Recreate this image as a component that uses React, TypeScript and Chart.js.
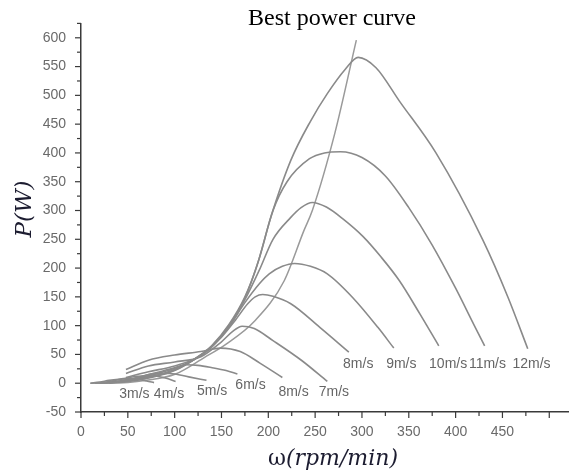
import React, { useEffect, useRef } from "react";
import { Chart, registerables } from "chart.js";

Chart.register(...registerables);

// ---- data (rpm / power in W) ----
const rpm3 = [10, 20, 30, 40, 50, 60, 70, 78];
const p3 = [0, 2, 5, 7, 8, 7, 4, 1];
const rpm4 = [20, 30, 45, 60, 75, 90, 101];
const p4 = [0, 3, 8, 12, 13, 9, 3];
const rpm5 = [30, 45, 60, 78, 95, 115, 134];
const p5 = [0, 4, 9, 17, 17, 11, 5];
const rpm6 = [40, 60, 80, 100, 112, 125, 140, 155, 167];
const p6 = [3, 10, 18, 27, 32, 31, 27, 22, 16];
const rpm7 = [48, 72, 100, 128, 149, 170, 191, 215];
const p7 = [24, 40, 49, 55, 61, 55, 35, 10];
const rpm8 = [48, 72, 100, 128, 150, 162, 172, 185, 205, 236, 263];
const p8 = [17, 30, 37, 46, 72, 90, 99, 95, 74, 39, 3];
const rpm9 = [48, 72, 100, 128, 150, 165, 178, 186, 194, 205, 224, 255, 286];
const p9 = [10, 20, 30, 48, 80, 110, 138, 150, 154, 151, 138, 97, 54];
const rpm10 = [30, 50, 75, 100, 125, 140, 158, 175, 190, 201, 215, 228, 245, 263, 290, 317, 334];
const p10 = [2, 6, 14, 26, 45, 64, 98, 140, 172, 190, 203, 208, 203, 190, 149, 97, 61];
const rpm11 = [25, 50, 75, 100, 125, 140, 158, 175, 190, 205, 224, 235, 247, 262, 280, 301, 320, 340, 362, 382];
const p11 = [1, 5, 12, 24, 45, 64, 98, 145, 195, 250, 288, 305, 314, 306, 285, 255, 220, 178, 120, 65];
const rpm12 = [20, 50, 75, 100, 125, 140, 158, 175, 190, 205, 220, 244, 260, 277, 300, 325, 350, 375, 400, 420, 431];
const p12 = [0, 4, 11, 23, 46, 65, 100, 148, 215, 300, 350, 390, 400, 402, 392, 360, 305, 240, 165, 100, 65];
const rpm13 = [15, 50, 75, 100, 125, 140, 158, 175, 188, 203, 224, 245, 263, 282, 296, 315, 340, 379, 429, 456, 477];
const p13 = [0, 3, 10, 22, 46, 66, 102, 150, 205, 290, 387, 455, 503, 545, 566, 548, 490, 400, 249, 149, 60];
const rpmBest = [10, 32, 70, 101, 132, 155, 186, 217, 238, 247, 271, 294];
const pBest = [0, 0, 5, 16, 45, 68, 109, 178, 265, 300, 434, 596];

const windLabels = ["3m/s", "4m/s", "5m/s", "6m/s", "8m/s", "7m/s", "8m/s", "9m/s", "10m/s", "11m/s", "12m/s"];
const labelRpm = [57, 94, 140, 181, 227, 270, 296, 342, 392, 434, 481];
const labelPower = [-18.5, -18.5, -14.5, -3, -15.6, -15.6, 33.5, 33.5, 33.5, 33.5, 33.5];

const titleText = "Best power curve";
const xTitleSymbol = "ω";
const xTitleUnit = "(rpm/min)";
const yTitleText = "P(W)";

const xMin = 0, xMax = 520, xLabelMax = 500, xStep = 25;
const yMin = -50, yMax = 625, yStep = 25;

const curves = [
  [rpm3, p3], [rpm4, p4], [rpm5, p5], [rpm6, p6], [rpm7, p7], [rpm8, p8],
  [rpm9, p9], [rpm10, p10], [rpm11, p11], [rpm12, p12], [rpm13, p13],
];

const zip = (xs: number[], ys: number[]) => xs.map((x, i) => ({ x, y: ys[i] }));

const decorPlugin = {
  id: "decor",
  afterDraw(chart: any) {
    const ctx = chart.ctx;
    const xs = chart.scales.x;
    const ys = chart.scales.y;
    const area = chart.chartArea;
    ctx.save();
    // tick marks
    ctx.strokeStyle = "#3a3a3a";
    ctx.lineWidth = 1.2;
    for (let v = xMin; v <= xLabelMax; v += xStep) {
      const px = xs.getPixelForValue(v);
      const len = v % 50 === 0 ? 6 : 4;
      ctx.beginPath();
      ctx.moveTo(px, area.bottom);
      ctx.lineTo(px, area.bottom + len);
      ctx.stroke();
    }
    for (let v = yMin; v <= yMax; v += yStep) {
      const py = ys.getPixelForValue(v);
      const len = v % 50 === 0 ? 6 : 4;
      ctx.beginPath();
      ctx.moveTo(area.left, py);
      ctx.lineTo(area.left - len, py);
      ctx.stroke();
    }
    // wind speed labels
    ctx.fillStyle = "#666";
    ctx.font = '14px "Liberation Sans", Arial, sans-serif';
    ctx.textAlign = "center";
    ctx.textBaseline = "middle";
    windLabels.forEach((t, i) => {
      ctx.fillText(t, xs.getPixelForValue(labelRpm[i]), ys.getPixelForValue(labelPower[i]));
    });
    // chart title
    ctx.fillStyle = "#000";
    ctx.font = '24px "Liberation Serif", serif';
    ctx.textAlign = "center";
    ctx.textBaseline = "alphabetic";
    ctx.fillText(titleText, 332, 25);
    // x axis title
    ctx.fillStyle = "#1c1c30";
    ctx.font = '22px "DejaVu Serif", serif';
    const w1 = ctx.measureText(xTitleSymbol).width;
    ctx.font = 'italic 22px "DejaVu Serif", serif';
    const w2 = ctx.measureText(xTitleUnit).width;
    const startX = 333 - (w1 + w2) / 2;
    ctx.textAlign = "left";
    ctx.font = '22px "DejaVu Serif", serif';
    ctx.fillText(xTitleSymbol, startX, 465);
    ctx.font = 'italic 22px "DejaVu Serif", serif';
    ctx.fillText(xTitleUnit, startX + w1, 465);
    // y axis title
    ctx.translate(25, 209);
    ctx.rotate(-Math.PI / 2);
    ctx.textAlign = "center";
    ctx.textBaseline = "middle";
    ctx.font = 'italic 23px "DejaVu Serif", serif';
    ctx.fillText(yTitleText, 0, 0);
    ctx.restore();
  },
};

export default function App() {
  const ref = useRef<HTMLCanvasElement | null>(null);
  useEffect(() => {
    if (!ref.current) return;
    const datasets: any[] = curves.map(([xs, ys]) => ({
      data: zip(xs, ys),
      borderColor: "#8a8a8a",
      borderWidth: 1.6,
      pointRadius: 0,
      cubicInterpolationMode: "monotone",
      fill: false,
    }));
    datasets.push({
      data: zip(rpmBest, pBest),
      borderColor: "#9a9a9a",
      borderWidth: 1.5,
      pointRadius: 0,
      cubicInterpolationMode: "monotone",
      fill: false,
    });
    const chart = new Chart(ref.current, {
      type: "line",
      data: { datasets },
      options: {
        animation: false,
        responsive: false,
        devicePixelRatio: 1,
        layout: { padding: { top: 23, right: 1, left: 0, bottom: 0 } },
        plugins: { legend: { display: false }, tooltip: { enabled: false }, title: { display: false } },
        scales: {
          x: {
            type: "linear",
            min: xMin,
            max: xMax,
            afterFit: (s: any) => { s.height = 60; },
            grid: { display: false, drawTicks: false },
            border: { display: true, color: "#3a3a3a", width: 1.5 },
            ticks: {
              stepSize: xStep,
              autoSkip: false,
              maxRotation: 0,
              padding: 12,
              color: "#6a6a6a",
              font: { family: '"Liberation Sans", Arial, sans-serif', size: 14 },
              callback: (v: any) => (v % 50 === 0 && v <= xLabelMax ? String(v) : ""),
            },
          },
          y: {
            type: "linear",
            min: yMin,
            max: yMax,
            afterFit: (s: any) => { s.width = 81; },
            grid: { display: false, drawTicks: false },
            border: { display: true, color: "#3a3a3a", width: 1.5 },
            ticks: {
              stepSize: yStep,
              autoSkip: false,
              padding: 15,
              color: "#6a6a6a",
              font: { family: '"Liberation Sans", Arial, sans-serif', size: 14 },
              callback: (v: any) => (v % 50 === 0 ? String(v) : ""),
            },
          },
        },
      },
      plugins: [decorPlugin],
    });
    return () => chart.destroy();
  }, []);
  return (
    <div style={{ position: "fixed", left: 0, top: 0, width: 580, height: 472, background: "#fff" }}>
      <canvas ref={ref} width={580} height={472} />
    </div>
  );
}
